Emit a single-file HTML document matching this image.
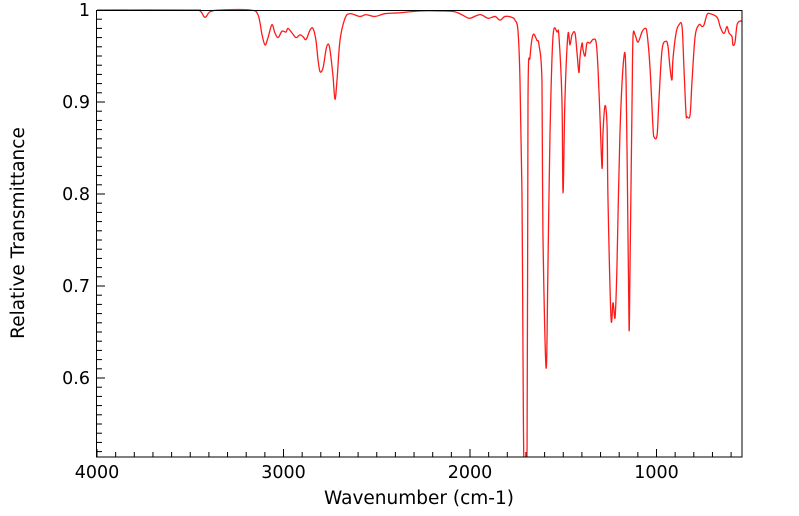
<!DOCTYPE html>
<html><head><meta charset="utf-8"><style>
html,body{margin:0;padding:0;background:#fff;width:799px;height:516px;overflow:hidden}
svg{display:block;font-family:"DejaVu Sans","Liberation Sans",sans-serif}
</style></head><body>
<svg id="chart" width="799" height="516" viewBox="0 0 799 516" xmlns="http://www.w3.org/2000/svg">
<defs><clipPath id="clip"><rect x="96" y="0" width="646" height="457"/></clipPath></defs>
<g id="axes"></g>
<g id="series" clip-path="url(#clip)"></g>
<rect x="96.5" y="10.5" width="645.5" height="446.5" fill="none" stroke="#000" stroke-width="1"/>
<text x="419" y="504" font-size="18.5" text-anchor="middle">Wavenumber (cm-1)</text>
<text transform="translate(24,233) rotate(-90)" font-size="18.5" text-anchor="middle">Relative Transmittance</text>
</svg>
<script>
const wavenumbers=[4000,3501,3448,3421,3394,3340,3180,3137,3115,3099,3083,3062,3046,3029,3008,2987,2976,2954,2933,2912,2895,2879,2858,2842,2826,2815,2804,2788,2772,2761,2751,2735,2724,2713,2697,2670,2643,2590,2558,2509,2456,2375,2268,2161,2080,2027,2000,1946,1903,1866,1839,1812,1775,1759,1743,1732,1721,1716,1710,1694,1689,1678,1662,1641,1630,1614,1609,1592,1582,1571,1555,1533,1523,1507,1501,1491,1475,1464,1453,1437,1426,1416,1410,1399,1394,1383,1373,1357,1340,1324,1314,1303,1292,1287,1276,1265,1260,1244,1233,1222,1212,1196,1174,1163,1153,1147,1142,1131,1126,1115,1099,1078,1062,1051,1035,1019,1013,997,987,970,949,938,928,917,912,895,879,863,853,842,836,820,810,793,772,756,745,729,713,675,659,643,633,622,611,595,590,579,568,552,536];
const transmittance=[1.000,1.000,.999,.992,.998,1.000,1.000,.995,.973,.962,.970,.984,.975,.970,.977,.976,.980,.975,.970,.973,.971,.968,.978,.980,.967,.946,.933,.937,.957,.963,.957,.929,.903,.924,.967,.991,.996,.993,.995,.993,.996,.997,.999,.999,.998,.993,.991,.995,.991,.993,.989,.993,.992,.989,.978,.924,.793,.630,.500,.525,.902,.949,.973,.967,.962,.921,.758,.611,.721,.866,.971,.976,.971,.902,.801,.902,.973,.962,.973,.975,.953,.932,.949,.964,.957,.950,.964,.964,.968,.965,.938,.884,.828,.866,.896,.873,.793,.666,.682,.666,.721,.866,.950,.921,.758,.652,.721,.902,.971,.973,.965,.976,.980,.975,.938,.873,.862,.864,.902,.957,.966,.960,.938,.924,.946,.975,.984,.982,.938,.888,.884,.886,.921,.971,.984,.982,.984,.995,.996,.992,.982,.975,.976,.982,.975,.971,.962,.965,.984,.988,.987];
const xTickLabels=[4000,3000,2000,1000];
const yTickLabels=[0.6,0.7,0.8,0.9,1];

const NS="http://www.w3.org/2000/svg";
const X=w=>97+(4000-w)*0.1865;
const Y=t=>10+(1-t)*920;
const axes=document.getElementById('axes');
function mk(tag,attrs,parent){const e=document.createElementNS(NS,tag);for(const k in attrs)e.setAttribute(k,attrs[k]);parent.appendChild(e);return e;}
for(let w=4000;w>=560;w-=100){
  const major=w%1000===0;
  const l=mk('line',{x1:X(w),x2:X(w),y1:457,y2:major?449:452,stroke:'#000','stroke-width':1},axes);
  
  
}
xTickLabels.forEach(v=>{
  const t=mk('text',{x:X(v),y:478,'font-size':17.5,'text-anchor':'middle'},axes);
  t.textContent=v;
  
  
});
for(let i=52;i<=100;i++){
  const v=i/100;const major=i%10===0;
  const l=mk('line',{x1:97,x2:major?105:102,y1:Y(v),y2:Y(v),stroke:'#000','stroke-width':1},axes);
  
  
}
yTickLabels.forEach(v=>{
  const t=mk('text',{x:90,y:Y(v)+6,'font-size':17.5,'text-anchor':'end'},axes);
  t.textContent=String(v);
  
  
});
const pts=wavenumbers.map((w,i)=>[X(w),Y(transmittance[i])]);
let d='M'+pts[0][0]+','+pts[0][1];
for(let i=0;i<pts.length-1;i++){
  const p0=pts[i-1]||pts[i],p1=pts[i],p2=pts[i+1],p3=pts[i+2]||p2;
  const c1x=p1[0]+(p2[0]-p0[0])/6,c1y=p1[1]+(p2[1]-p0[1])/6;
  const c2x=p2[0]-(p3[0]-p1[0])/6,c2y=p2[1]-(p3[1]-p1[1])/6;
  d+=` C${c1x},${c1y} ${c2x},${c2y} ${p2[0]},${p2[1]}`;
}
const path=mk('path',{d:d,fill:'none',stroke:'#ff1a1a','stroke-width':1.3},document.getElementById('series'));


</script>
</body></html>
